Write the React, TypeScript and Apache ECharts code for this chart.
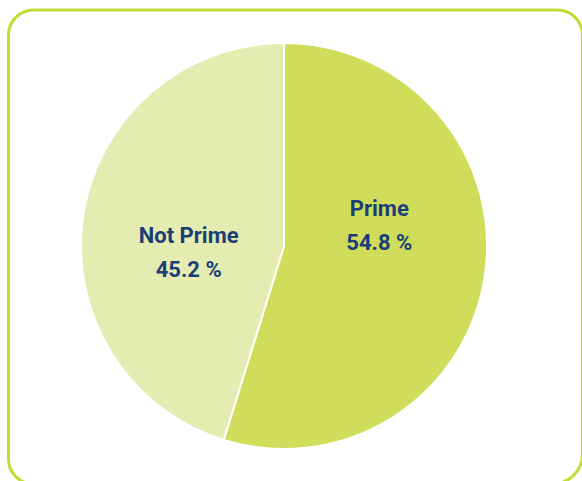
import React, { useEffect, useRef } from "react";
import * as echarts from "echarts";

const categories = ["Prime", "Not Prime"];
const values = [54.8, 45.2];
const colors = ["#cfdd5b", "#e4ecb1"];
const labelOffsets = [[-8, -36], [8, 22]];

export default function App() {
  const ref = useRef<HTMLDivElement>(null);
  useEffect(() => {
    document.body.style.margin = "0";
    const chart = echarts.init(ref.current!, null, { renderer: "svg" });
    chart.setOption({
      animation: false,
      graphic: [
        {
          type: "rect",
          shape: { x: 8.5, y: 10, width: 574, height: 474, r: [25, 25, 30, 25] },
          style: { fill: "none", stroke: "#c6da36", lineWidth: 3 },
          silent: true,
          z: 0,
        },
      ],
      series: [
        {
          type: "pie",
          center: [284, 246],
          radius: [0, 203],
          startAngle: 90,
          clockwise: true,
          itemStyle: { borderColor: "#ffffff", borderWidth: 2 },
          label: {
            show: true,
            position: "inside",
            formatter: (p: any) => `${p.name}\n${p.value.toFixed(1)} %`,
            color: "#1b3d78",
            fontFamily: "Roboto",
            fontWeight: "bold",
            fontSize: 22,
            lineHeight: 34,
            align: "center",
          },
          labelLine: { show: false },
          emphasis: { disabled: true },
          data: categories.map((c, i) => ({
            name: c,
            value: values[i],
            itemStyle: { color: colors[i] },
            label: { offset: labelOffsets[i] },
          })),
        },
      ],
    });
    return () => chart.dispose();
  }, []);
  return <div ref={ref} style={{ width: 582, height: 481 }} />;
}
